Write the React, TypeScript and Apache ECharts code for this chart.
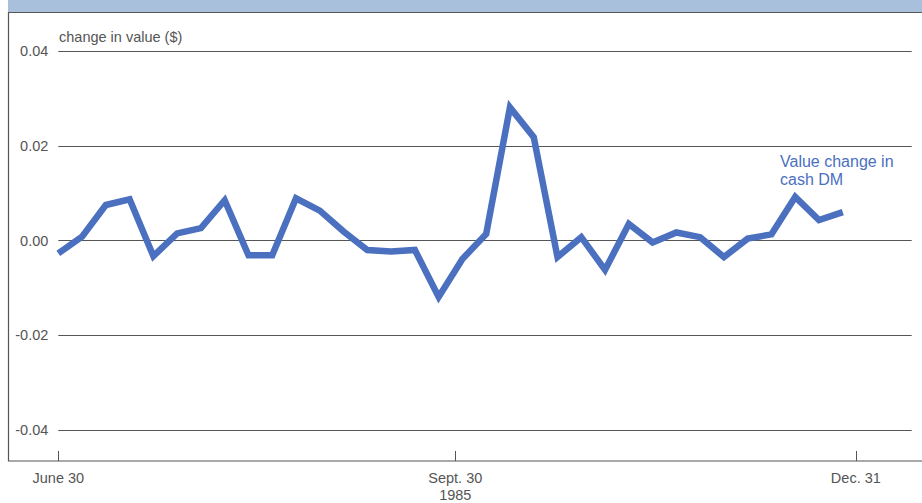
import React, { useEffect, useRef } from "react";
import * as echarts from "echarts";

// Value change in cash DM, observations from June 30 to Dec. 31, 1985
const values: number[] = [
  -0.0027, 0.0008, 0.0075, 0.0087, -0.0033, 0.0015, 0.0026, 0.0085, -0.0031, -0.0031,
  0.0089, 0.0063, 0.0019, -0.002, -0.0023, -0.002, -0.0119, -0.0039, 0.0014, 0.0281,
  0.0218, -0.0035, 0.0007, -0.0062, 0.0035, -0.0004, 0.0017, 0.0007, -0.0035, 0.0004,
  0.0013, 0.0092, 0.0043, 0.006,
];
// positions of the date ticks, in observation units
const dateTickPositions: number[] = [0, 16.7, 33.55];
const dateTickLabels: string[] = ["June 30", "Sept. 30\n1985", "Dec. 31"];
const yTicks: number[] = [-0.04, -0.02, 0, 0.02, 0.04];
const xAxisEnd = 35.9;

const FONT = "'Liberation Sans', Arial, Helvetica, sans-serif";
const GRAY = "#555555";

export default function App() {
  const ref = useRef<HTMLDivElement>(null);
  useEffect(() => {
    if (!ref.current) return;
    const chart = echarts.init(ref.current, undefined, { renderer: "svg" });
    const data = values.map((v, i) => [i, v]);
    chart.setOption({
      animation: false,
      backgroundColor: "#ffffff",
      grid: { left: 58.3, right: 10.3, top: 51, bottom: 73, containLabel: false },
      xAxis: {
        type: "value",
        min: 0,
        max: xAxisEnd,
        offset: 31,
        axisLine: { show: false, onZero: false },
        splitLine: { show: false },
        axisTick: {
          show: true,
          inside: true,
          length: 10,
          customValues: dateTickPositions,
          lineStyle: { color: GRAY, width: 1 },
        },
        axisLabel: {
          customValues: dateTickPositions,
          margin: 8,
          color: GRAY,
          fontSize: 14.5,
          fontFamily: FONT,
          lineHeight: 17,
          formatter: (v: number) => {
            const idx = dateTickPositions.findIndex((p) => Math.abs(p - v) < 1e-6);
            return idx >= 0 ? dateTickLabels[idx] : "";
          },
        },
      },
      yAxis: {
        type: "value",
        min: -0.04,
        max: 0.04,
        interval: 0.02,
        axisLine: { show: false },
        axisTick: { show: false },
        splitLine: { show: true, lineStyle: { color: GRAY, width: 1 } },
        axisLabel: {
          margin: 10,
          color: GRAY,
          fontSize: 14.5,
          fontFamily: FONT,
          formatter: (v: number) => {
            const t = yTicks.find((y) => Math.abs(y - v) < 1e-9);
            const val = t === undefined ? v : t;
            return val.toFixed(2);
          },
        },
      },
      series: [
        {
          type: "line",
          data,
          symbol: "none",
          lineStyle: { color: "#4a70bf", width: 6.5, join: "miter" },
          z: 5,
        },
      ],
      graphic: [
        {
          type: "rect",
          shape: { x: 8, y: 0, width: 914, height: 12 },
          style: { fill: "#a9c0dc" },
          silent: true,
        },
        {
          type: "polyline",
          shape: { points: [[922, 12.5], [8.5, 12.5], [8.5, 461], [922, 461]] },
          style: { stroke: GRAY, lineWidth: 1.2, fill: "none" },
          silent: true,
        },
        {
          type: "text",
          x: 59,
          y: 37,
          style: {
            text: "change in value ($)",
            fill: GRAY,
            fontSize: 14.5,
            fontFamily: FONT,
            verticalAlign: "middle",
          },
        },
        {
          type: "text",
          x: 780,
          y: 152,
          style: {
            text: "Value change in\ncash DM",
            fill: "#4a70bf",
            fontSize: 16,
            lineHeight: 18.5,
            fontFamily: FONT,
            verticalAlign: "top",
          },
        },
      ],
    });
    return () => chart.dispose();
  }, []);
  return (
    <div
      ref={ref}
      style={{ position: "fixed", left: 0, top: 0, width: 922, height: 503 }}
    />
  );
}
